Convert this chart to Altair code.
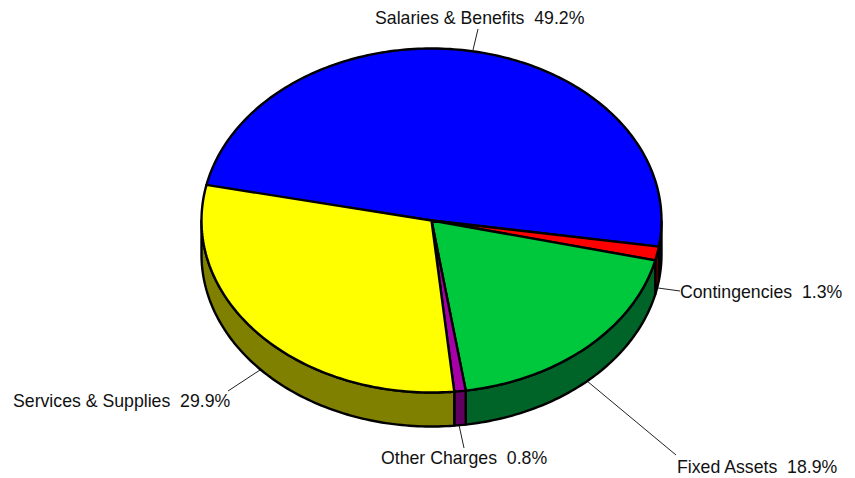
import math
import altair as alt
import pandas as pd

# ---- data ----
categories = ["Salaries & Benefits", "Contingencies", "Fixed Assets", "Other Charges", "Services & Supplies"]
shares = [49.2, 1.3, 18.9, 0.8, 29.9]
top_colors = ["#0000FF", "#FF0000", "#00C83C", "#A800A8", "#FFFF00"]
wall_colors = ["#000080", "#800000", "#006428", "#600060", "#808000"]

# ---- layout ----
W, H = 839, 462
CX, CY, RX, RY = 423.5, 212.5, 230.0, 172.0
DEPTH = 34.0
START = 168.4
label_x = [367, 672, 669, 373, 5]
label_y = [16, 290, 465, 456, 399]
leader_a = [(465, 42), (650, 280), (579, 373), (451, 417), (252, 362)]
leader_b = [(470, 21), (672, 283), (668, 447), (456, 440), (220, 383)]

def ux(px):
    return (px - CX) / RX

def uy(py):
    return (CY - py) / RY

depth_u = DEPTH / RY

def arc(t0, t1, step=1.0):
    n = max(2, int(abs(t1 - t0) / step) + 1)
    return [t0 + (t1 - t0) * k / (n - 1) for k in range(n)]

tops, walls = [], []
t = START
for name, share, in zip(categories, shares):
    t1 = t - share * 3.6
    pts = [(0.0, 0.0)] + [(math.cos(math.radians(a)), math.sin(math.radians(a))) for a in arc(t, t1)] + [(0.0, 0.0)]
    for i, (x, y) in enumerate(pts):
        tops.append({"name": name, "i": i, "x": x, "y": y})
    # visible outer wall: the part of the rim on the lower half of the ellipse
    w0, w1 = min(t, 0.0), max(t1, -180.0)
    if w1 < w0:
        ring = [(math.cos(math.radians(a)), math.sin(math.radians(a))) for a in arc(w0, w1)]
        ring += [(x, y - depth_u) for x, y in reversed(ring)]
        ring.append(ring[0])
        for i, (x, y) in enumerate(ring):
            walls.append({"name": name, "i": i, "x": x, "y": y})
    t = t1

labels = pd.DataFrame({
    "text": [f"{c}\u00a0\u00a0{s}%" for c, s in zip(categories, shares)],
    "x": [ux(v) for v in label_x],
    "y": [uy(v) for v in label_y],
})
leaders = pd.DataFrame(
    [{"k": c, "i": 0, "x": ux(a[0]), "y": uy(a[1])} for c, a in zip(categories, leader_a)]
    + [{"k": c, "i": 1, "x": ux(b[0]), "y": uy(b[1])} for c, b in zip(categories, leader_b)]
)

xs = alt.Scale(domain=[ux(0), ux(W)], range=[0, W], nice=False, zero=False)
ys = alt.Scale(domain=[uy(H), uy(0)], range=[H, 0], nice=False, zero=False)
X = alt.X("x:Q", scale=xs, axis=None)
Y = alt.Y("y:Q", scale=ys, axis=None)

def shape(rows, colors):
    return alt.Chart(pd.DataFrame(rows)).mark_line(
        stroke="black", strokeWidth=2.4, strokeJoin="round", clip=False
    ).encode(
        x=X, y=Y, order=alt.Order("i:Q"),
        fill=alt.Fill("name:N", scale=alt.Scale(domain=categories, range=colors), legend=None),
        detail="name:N",
    )

leader_layer = alt.Chart(leaders).mark_line(stroke="#222222", strokeWidth=1).encode(
    x=X, y=Y, order=alt.Order("i:Q"), detail="k:N"
)
text_layer = alt.Chart(labels).mark_text(
    align="left", baseline="alphabetic", font="Liberation Sans", fontSize=17.7, color="#111111"
).encode(x=X, y=Y, text="text:N")

chart = alt.layer(leader_layer, shape(walls, wall_colors), shape(tops, top_colors), text_layer).resolve_scale(
    fill="independent"
).properties(
    width=W, height=H, padding=0
).configure_view(stroke=None)

chart.save("out.html", embed_options={"renderer": "svg", "actions": False})
